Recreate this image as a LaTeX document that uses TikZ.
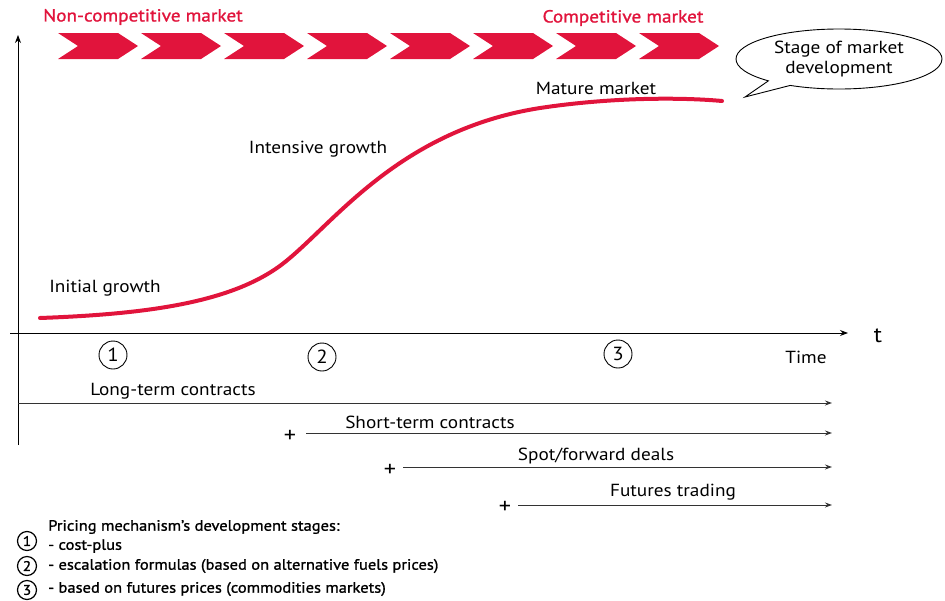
\documentclass[tikz,border=0pt]{standalone}
\usepackage{fontspec}
\setmainfont[FakeStretch=1.1]{PT Sans}
\newfontfamily\legfont[FakeStretch=1.1,FakeBold=1.2]{PT Sans}
\usetikzlibrary{arrows.meta,shapes.callouts}
\definecolor{mred}{RGB}{225,20,60}
\begin{document}
\begin{tikzpicture}[x=1pt,y=-1pt,
  lbl/.style={font=\fontsize{17.5}{19}\selectfont, inner sep=0pt},
  rlbl/.style={font=\legfont\fontsize{17.5}{19}\selectfont, inner sep=0pt, text=mred},
  num/.style={circle, draw, line width=0.9pt, minimum size=28pt, inner sep=0pt, font=\fontsize{19}{20}\selectfont},
  lnum/.style={circle, draw, line width=1.2pt, minimum size=19pt, inner sep=0pt, font=\legfont\fontsize{14}{15}\selectfont},
  tarrow/.style={draw=black!80, line width=1pt, -{Stealth[length=7pt,width=5pt]}},
  plus/.style={font=\fontsize{22}{24}\selectfont, inner sep=0pt},
  leg/.style={font=\legfont\fontsize{15}{16}\selectfont, inner sep=0pt, anchor=west}]
\useasboundingbox (0,0) rectangle (945,600);
% axes
\coordinate (yb) at (18,445);
\coordinate (yt) at (18,35);
\coordinate (xl) at (10,333);
\coordinate (xr) at (848,333);
\draw[line width=1pt, -{Stealth[length=8pt,width=6pt]}] (yb) -- (yt);
\draw[line width=1pt, -{Stealth[length=8pt,width=6pt]}] (xl) -- (xr);
\node[font=\fontsize{22}{24}\selectfont, inner sep=0pt] (t) at (878,336) {t};
\node[lbl] (time) at (806,357) {Time};
% chevrons
\foreach \i in {0,...,7}{
  \fill[mred] ({58+83*\i},33) -- ({58+83*\i+20},46) -- ({58+83*\i},59)
    -- ({58+83*\i+60},59) -- ({58+83*\i+80},46) -- ({58+83*\i+60},33) -- cycle;
}
\node[rlbl] (noncomp) at (143,17) {Non-competitive market};
\node[rlbl] (comp) at (623,18) {Competitive market};
% speech bubble
\node[ellipse callout, draw, line width=0.9pt, minimum width=206pt, minimum height=60pt,
  callout absolute pointer={(745,97)}, align=center, inner sep=0pt,
  font=\fontsize{17.5}{20}\selectfont] (bubble) at (839,59) {Stage of market\\development};
% growth curve
\draw[mred, line width=4pt, line cap=round]
  (40,318) .. controls (150,314) and (235,302) .. (285,262)
  .. controls (335,222) and (400,130) .. (540,108)
  .. controls (620,96) and (690,98) .. (722,101);
\node[lbl] (initial) at (105,288) {Initial growth};
\node[lbl] (intensive) at (318,149) {Intensive growth};
\node[lbl] (mature) at (596,88) {Mature market};
% stage numbers
\node[num] (n1) at (113,355) {1};
\node[num] (n2) at (322,357) {2};
\node[num] (n3) at (618,354) {3};
% contract arrows
\coordinate (a1s) at (18,403);
\coordinate (a1e) at (832,403);
\draw[tarrow] (a1s) -- (a1e);
\node[lbl] (long) at (173,391) {Long-term contracts};
\node[plus] (p2) at (290,436) {+};
\coordinate (a2s) at (306,433);
\coordinate (a2e) at (832,433);
\draw[tarrow] (a2s) -- (a2e);
\node[lbl] (short) at (430,422) {Short-term contracts};
\node[plus] (p3) at (390,470) {+};
\coordinate (a3s) at (403,467);
\coordinate (a3e) at (832,467);
\draw[tarrow] (a3s) -- (a3e);
\node[lbl] (spot) at (596,456) {Spot/forward deals};
\node[plus] (p4) at (505,507) {+};
\coordinate (a4s) at (518,505);
\coordinate (a4e) at (832,505);
\draw[tarrow] (a4s) -- (a4e);
\node[lbl] (fut) at (673,492) {Futures trading};
% legend
\node[lnum] (l1) at (27,541) {1};
\node[lnum] (l2) at (27,566) {2};
\node[lnum] (l3) at (27,590) {3};
\node[leg] (lt0) at (48,527) {Pricing mechanism’s development stages:};
\node[leg] (lt1) at (48,546) {- cost-plus};
\node[leg] (lt2) at (48,566) {- escalation formulas (based on alternative fuels prices)};
\node[leg] (lt3) at (48,589) {- based on futures prices (commodities markets)};
\end{tikzpicture}
\end{document}
